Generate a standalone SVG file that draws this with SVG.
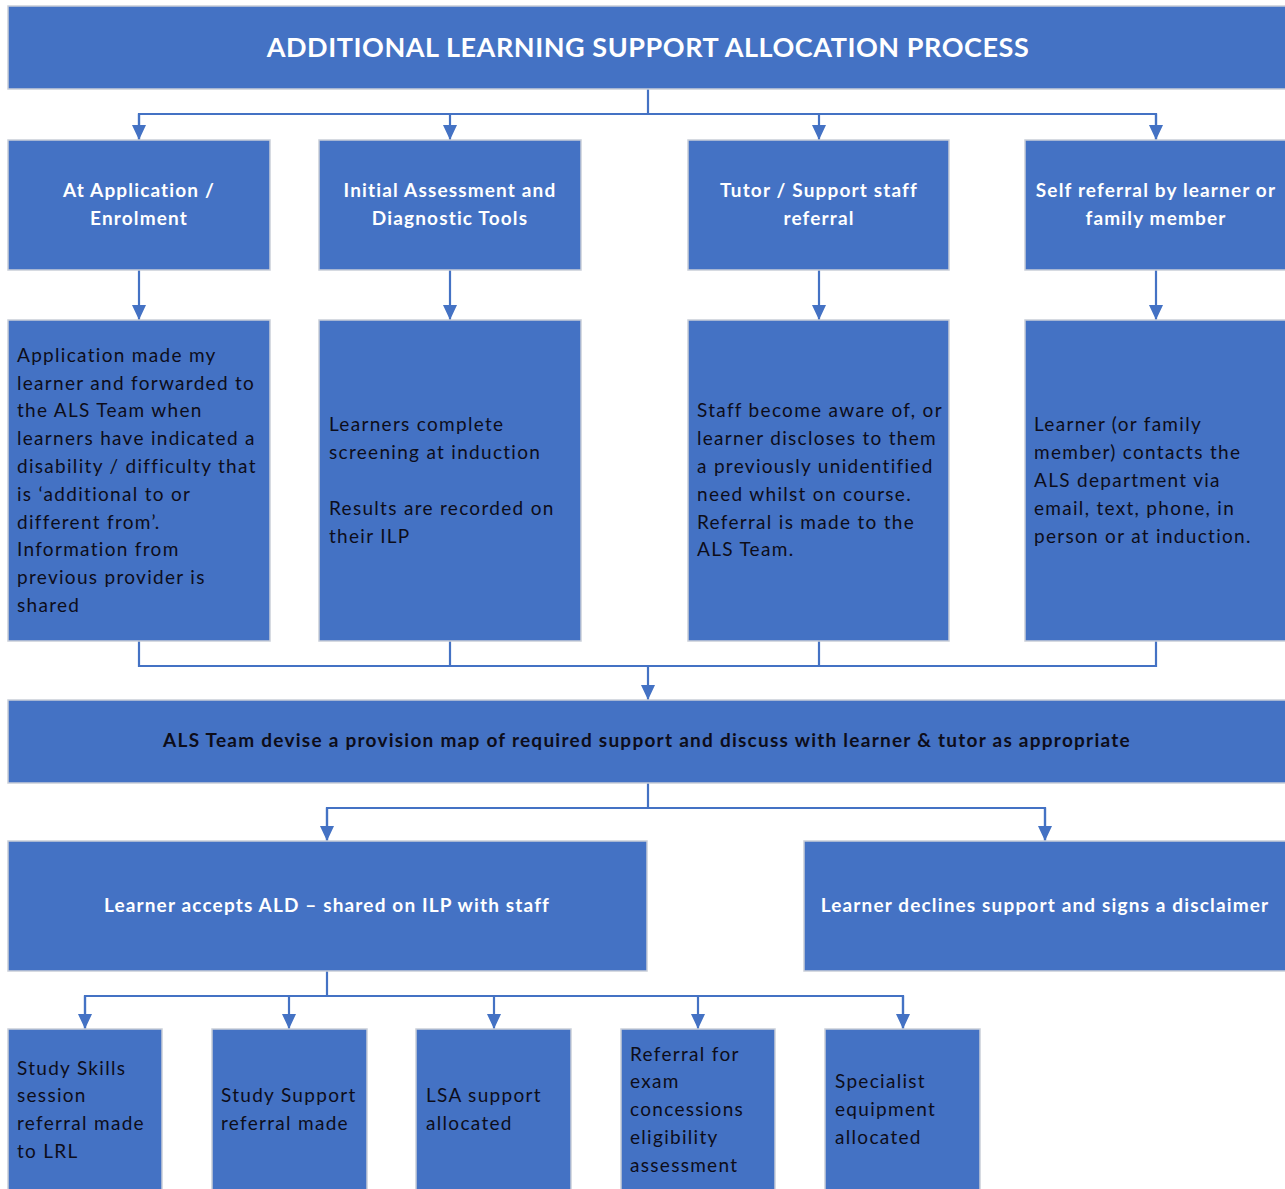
<svg xmlns="http://www.w3.org/2000/svg" width="1285" height="1189" viewBox="0 0 1285 1189">
<defs>
<style>
.box{fill:#4472C4;stroke:#C9CED8;stroke-width:1.5}
.con{fill:none;stroke:#4472C4;stroke-width:2.2}
.t{font-family:Lato,"Open Sans","Liberation Sans",sans-serif;font-size:19px;fill:#0D0D1A;letter-spacing:1.3px}
.h{font-family:Lato,"Open Sans","Liberation Sans",sans-serif;font-size:19px;font-weight:bold;fill:#FFFFFF;text-anchor:middle;letter-spacing:1.15px}
.b{font-family:Lato,"Open Sans","Liberation Sans",sans-serif;font-size:19px;font-weight:bold;fill:#0D0D1A;text-anchor:middle;letter-spacing:1.25px}
.title{font-family:Lato,"Open Sans","Liberation Sans",sans-serif;font-size:27px;font-weight:bold;fill:#FFFFFF;text-anchor:middle;letter-spacing:0.55px}
</style>
<marker id="arr" markerWidth="14" markerHeight="15" refX="7" refY="15" orient="0" markerUnits="userSpaceOnUse" viewBox="0 0 14 15">
<path d="M0,0 L14,0 L7,15 Z" fill="#4472C4"/>
</marker>
</defs>
<rect width="1285" height="1189" fill="#FFFFFF"/>

<g id="connectors">
<path class="con" d="M648,89 V114"/>
<path class="con" d="M139,140 V114 H1156 V140"/>
<path class="con" d="M139,114 V140" marker-end="url(#arr)"/>
<path class="con" d="M450,114 V140" marker-end="url(#arr)"/>
<path class="con" d="M819,114 V140" marker-end="url(#arr)"/>
<path class="con" d="M1156,114 V140" marker-end="url(#arr)"/>
<path class="con" d="M139,270 V320" marker-end="url(#arr)"/>
<path class="con" d="M450,270 V320" marker-end="url(#arr)"/>
<path class="con" d="M819,270 V320" marker-end="url(#arr)"/>
<path class="con" d="M1156,270 V320" marker-end="url(#arr)"/>
<path class="con" d="M139,641 V666 H1156 V641"/>
<path class="con" d="M450,641 V666"/>
<path class="con" d="M819,641 V666"/>
<path class="con" d="M648,666 V700" marker-end="url(#arr)"/>
<path class="con" d="M648,783 V808"/>
<path class="con" d="M327,841 V808 H1045 V841"/>
<path class="con" d="M327,808 V841" marker-end="url(#arr)"/>
<path class="con" d="M1045,808 V841" marker-end="url(#arr)"/>
<path class="con" d="M327,971 V996"/>
<path class="con" d="M85,1029 V996 H903 V1029"/>
<path class="con" d="M85,996 V1029" marker-end="url(#arr)"/>
<path class="con" d="M289,996 V1029" marker-end="url(#arr)"/>
<path class="con" d="M494,996 V1029" marker-end="url(#arr)"/>
<path class="con" d="M698,996 V1029" marker-end="url(#arr)"/>
<path class="con" d="M903,996 V1029" marker-end="url(#arr)"/>
</g>

<g id="title">
<rect class="box" x="8" y="6" width="1280" height="83"/>
<text class="title" x="648" y="57">ADDITIONAL LEARNING SUPPORT ALLOCATION PROCESS</text>
</g>

<g id="h1">
<rect class="box" x="8" y="140" width="262" height="130"/>
<text class="h" x="139" y="197">At Application /</text>
<text class="h" x="139" y="225">Enrolment</text>
</g>
<g id="h2">
<rect class="box" x="319" y="140" width="262" height="130"/>
<text class="h" x="450" y="197">Initial Assessment and</text>
<text class="h" x="450" y="225">Diagnostic Tools</text>
</g>
<g id="h3">
<rect class="box" x="688" y="140" width="261" height="130"/>
<text class="h" x="819" y="197">Tutor / Support staff</text>
<text class="h" x="819" y="225">referral</text>
</g>
<g id="h4">
<rect class="box" x="1025" y="140" width="263" height="130"/>
<text class="h" x="1156" y="197">Self referral by learner or</text>
<text class="h" x="1156" y="225">family member</text>
</g>

<g id="d1">
<rect class="box" x="8" y="320" width="262" height="321"/>
<text class="t" x="17" y="362">Application made my</text>
<text class="t" x="17" y="390">learner and forwarded to</text>
<text class="t" x="17" y="417">the ALS Team when</text>
<text class="t" x="17" y="445">learners have indicated a</text>
<text class="t" x="17" y="473">disability / difficulty that</text>
<text class="t" x="17" y="501">is ‘additional to or</text>
<text class="t" x="17" y="529">different from’.</text>
<text class="t" x="17" y="556">Information from</text>
<text class="t" x="17" y="584">previous provider is</text>
<text class="t" x="17" y="612">shared</text>
</g>
<g id="d2">
<rect class="box" x="319" y="320" width="262" height="321"/>
<text class="t" x="329" y="431">Learners complete</text>
<text class="t" x="329" y="459">screening at induction</text>
<text class="t" x="329" y="515">Results are recorded on</text>
<text class="t" x="329" y="543">their ILP</text>
</g>
<g id="d3">
<rect class="box" x="688" y="320" width="261" height="321"/>
<text class="t" x="697" y="417">Staff become aware of, or</text>
<text class="t" x="697" y="445">learner discloses to them</text>
<text class="t" x="697" y="473">a previously unidentified</text>
<text class="t" x="697" y="501">need whilst on course.</text>
<text class="t" x="697" y="529">Referral is made to the</text>
<text class="t" x="697" y="556">ALS Team.</text>
</g>
<g id="d4">
<rect class="box" x="1025" y="320" width="263" height="321"/>
<text class="t" x="1034" y="431">Learner (or family</text>
<text class="t" x="1034" y="459">member) contacts the</text>
<text class="t" x="1034" y="487">ALS department via</text>
<text class="t" x="1034" y="515">email, text, phone, in</text>
<text class="t" x="1034" y="543">person or at induction.</text>
</g>

<g id="provision">
<rect class="box" x="8" y="700" width="1280" height="83"/>
<text class="b" x="647" y="747">ALS Team devise a provision map of required support and discuss with learner &amp; tutor as appropriate</text>
</g>

<g id="accept">
<rect class="box" x="8" y="841" width="639" height="130"/>
<text class="h" x="327" y="912">Learner accepts ALD – shared on ILP with staff</text>
</g>
<g id="decline">
<rect class="box" x="804" y="841" width="484" height="130"/>
<text class="h" x="1045" y="912">Learner declines support and signs a disclaimer</text>
</g>

<g id="o1">
<rect class="box" x="8" y="1029" width="154" height="165"/>
<text class="t" x="17" y="1075">Study Skills</text>
<text class="t" x="17" y="1102">session</text>
<text class="t" x="17" y="1130">referral made</text>
<text class="t" x="17" y="1158">to LRL</text>
</g>
<g id="o2">
<rect class="box" x="212" y="1029" width="155" height="165"/>
<text class="t" x="221" y="1102">Study Support</text>
<text class="t" x="221" y="1130">referral made</text>
</g>
<g id="o3">
<rect class="box" x="416" y="1029" width="155" height="165"/>
<text class="t" x="426" y="1102">LSA support</text>
<text class="t" x="426" y="1130">allocated</text>
</g>
<g id="o4">
<rect class="box" x="621" y="1029" width="154" height="165"/>
<text class="t" x="630" y="1061">Referral for</text>
<text class="t" x="630" y="1088">exam</text>
<text class="t" x="630" y="1116">concessions</text>
<text class="t" x="630" y="1144">eligibility</text>
<text class="t" x="630" y="1172">assessment</text>
</g>
<g id="o5">
<rect class="box" x="825" y="1029" width="155" height="165"/>
<text class="t" x="835" y="1088">Specialist</text>
<text class="t" x="835" y="1116">equipment</text>
<text class="t" x="835" y="1144">allocated</text>
</g>
</svg>
